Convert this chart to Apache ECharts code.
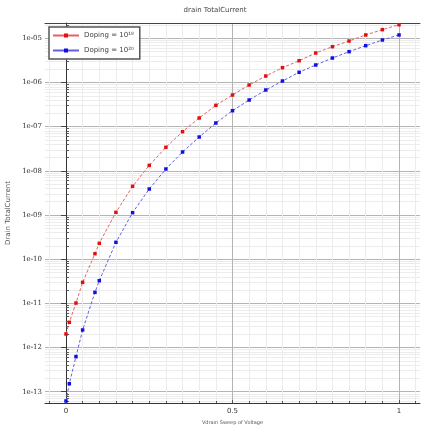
<!DOCTYPE html>
<html><head><meta charset="utf-8">
<script src="https://cdn.jsdelivr.net/npm/echarts@6/dist/echarts.min.js"></script>
<style>html,body{margin:0;padding:0;background:#fff}#c{width:433px;height:428px}</style>
</head><body><div id="c"></div><script>
// ---- data ----
const xVoltage = [0, 0.01, 0.03, 0.05, 0.087, 0.1, 0.15, 0.2, 0.25, 0.3, 0.35, 0.4, 0.45, 0.5, 0.55, 0.6, 0.65, 0.7, 0.75, 0.8, 0.85, 0.9, 0.95, 1.0];
const currentDoping18 = [2.03e-12, 3.73e-12, 1.02e-11, 3.0e-11, 1.33e-10, 2.29e-10, 1.15e-9, 4.47e-9, 1.33e-8, 3.41e-8, 7.69e-8, 1.57e-7, 3.04e-7, 5.21e-7, 8.77e-7, 1.40e-6, 2.16e-6, 3.11e-6, 4.65e-6, 6.46e-6, 8.69e-6, 1.19e-5, 1.57e-5, 2.03e-5];
const currentDoping20 = [6.17e-14, 1.52e-13, 6.21e-13, 2.50e-12, 1.78e-11, 3.26e-11, 2.41e-10, 1.13e-9, 3.88e-9, 1.10e-8, 2.67e-8, 5.83e-8, 1.21e-7, 2.30e-7, 4.01e-7, 6.76e-7, 1.08e-6, 1.70e-6, 2.49e-6, 3.58e-6, 4.98e-6, 6.81e-6, 9.16e-6, 1.19e-5];
const seriesNames = ['Doping = 10¹⁸', 'Doping = 10²⁰'];
const xTickValues = [0, 0.5, 1];
const xTickLabels = ['0', '0.5', '1'];
const yTickValues = [1e-13, 1e-12, 1e-11, 1e-10, 1e-9, 1e-8, 1e-7, 1e-6, 1e-5];
const yTickLabels = ['1e-13', '1e-12', '1e-11', '1e-10', '1e-09', '1e-08', '1e-07', '1e-06', '1e-05'];
const chartTitle = 'drain TotalCurrent';
const xAxisTitle = 'Vdrain Sweep of Voltage';
const yAxisTitle = 'Drain TotalCurrent';

// ---- axis setup ----
const X_MIN = -0.063, X_MAX = 1.063;
const Y_MIN = Math.log10(5.56e-14), Y_MAX = Math.log10(2.22e-5);
const lg = v => Math.log10(v);
const yMajor = yTickValues.map(lg);
const yMinor = [];
for (let d = -14; d <= -5; d++) for (let k = 2; k <= 9; k++) {
  const v = Math.log10(k) + d;
  if (v > Y_MIN && v < Y_MAX) yMinor.push(v);
}
const xMinor = [];
for (let i = -1; i <= 21; i++) {
  const v = Math.round(i * 0.05 * 1000) / 1000;
  if (v > X_MIN && v < X_MAX && xTickValues.indexOf(v) < 0) xMinor.push(v);
}
const pairs = (ys) => xVoltage.map((x, i) => [x, lg(ys[i])]);

const chart = echarts.init(document.getElementById('c'), null, {renderer: 'canvas'});
chart.setOption({
  animation: false,
  backgroundColor: '#fff',
  title: {
    text: chartTitle, left: 210, top: 2, textAlign: 'center',
    textStyle: {fontSize: 7, fontWeight: 'normal', color: '#444', fontFamily: 'DejaVu Sans'}
  },
  grid: {left: 45, right: 13, top: 23, bottom: 25, containLabel: false, outerBoundsMode: 'none'},
  legend: {
    orient: 'vertical', left: 49, top: 27,
    padding: [5, 6, 5, 3], itemGap: 8, itemWidth: 26, itemHeight: 5,
    backgroundColor: '#fff', borderColor: '#555', borderWidth: 1.5, borderRadius: 0,
    textStyle: {fontSize: 7, color: '#444', fontFamily: 'DejaVu Sans'},
    lineStyle: {type: 'solid'},
    data: seriesNames
  },
  xAxis: [
    { // minor
      type: 'value', min: X_MIN, max: X_MAX, position: 'bottom',
      axisLine: {show: false},
      axisTick: {show: true, inside: true, length: 2, customValues: xMinor, lineStyle: {color: '#555'}},
      axisLabel: {show: false},
      splitLine: {show: true, lineStyle: {color: '#ececec', width: 1}}
    },
    { // major
      type: 'value', min: X_MIN, max: X_MAX, position: 'bottom',
      axisLine: {show: true, lineStyle: {color: '#333', width: 1}},
      axisTick: {show: true, inside: true, length: 3, customValues: xTickValues, lineStyle: {color: '#555'}},
      axisLabel: {show: true, customValues: xTickValues, fontSize: 7, color: '#333', fontFamily: 'DejaVu Sans', margin: 5,
        formatter: v => xTickLabels[xTickValues.indexOf(v)] ?? ''},
      splitLine: {show: true, lineStyle: {color: '#b4b4b4', width: 1}},
      name: xAxisTitle, nameLocation: 'middle', nameGap: 12,
      nameTextStyle: {fontSize: 5, color: '#555', fontFamily: 'DejaVu Sans'}
    },
    { // top frame
      type: 'value', min: X_MIN, max: X_MAX, position: 'top',
      axisLine: {show: true, lineStyle: {color: '#444', width: 1}},
      axisTick: {show: false}, axisLabel: {show: false}, splitLine: {show: false}
    }
  ],
  yAxis: [
    { // minor
      type: 'value', min: Y_MIN, max: Y_MAX, position: 'left',
      axisLine: {show: false},
      axisTick: {show: true, inside: true, length: 3, customValues: yMinor, lineStyle: {color: '#555'}},
      axisLabel: {show: false},
      splitLine: {show: true, lineStyle: {color: '#ececec', width: 1}}
    },
    { // major
      type: 'value', min: Y_MIN, max: Y_MAX, position: 'left',
      axisLine: {show: true, lineStyle: {color: '#333', width: 1}},
      axisTick: {show: true, inside: false, length: 5, customValues: yMajor, lineStyle: {color: '#444'}},
      axisLabel: {show: true, customValues: yMajor, fontSize: 7, color: '#333', fontFamily: 'DejaVu Serif', margin: 3,
        formatter: v => { const i = yMajor.findIndex(m => Math.abs(m - v) < 1e-6); return i >= 0 ? yTickLabels[i] : ''; }},
      splitLine: {show: true, lineStyle: {color: '#b4b4b4', width: 1}},
      name: yAxisTitle, nameLocation: 'middle', nameGap: 32,
      nameTextStyle: {fontSize: 7, color: '#555', fontFamily: 'DejaVu Sans'}
    }
  ],
  series: [
    {
      name: seriesNames[0], type: 'line', xAxisIndex: 1, yAxisIndex: 1,
      data: pairs(currentDoping18),
      symbol: 'rect', symbolSize: 3.5,
      itemStyle: {color: '#e01010'},
      lineStyle: {color: '#e86060', width: 1, type: [3, 2]},
      z: 5
    },
    {
      name: seriesNames[1], type: 'line', xAxisIndex: 1, yAxisIndex: 1,
      data: pairs(currentDoping20),
      symbol: 'rect', symbolSize: 3.5,
      itemStyle: {color: '#1010e0'},
      lineStyle: {color: '#6060e0', width: 1, type: [3, 2]},
      z: 5
    }
  ]
});
</script></body></html>
